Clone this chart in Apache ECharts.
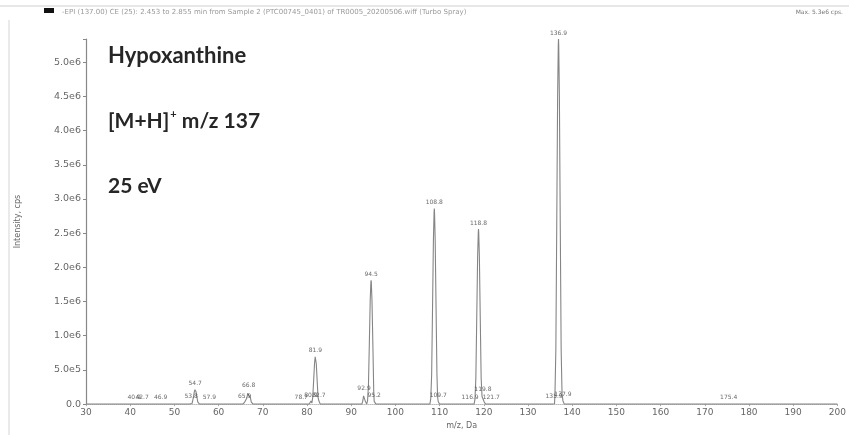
<!DOCTYPE html>
<html>
<head>
<meta charset="utf-8">
<script src="https://cdn.jsdelivr.net/npm/echarts@6/dist/echarts.min.js"></script>
<style>
  html, body { margin: 0; padding: 0; background: #fff; }
  #chart { width: 849px; height: 435px; }
</style>
</head>
<body>
<div id="chart"></div>
<script>
// Product-ion spectrum of hypoxanthine, profile trace (m/z in Da, intensity in cps)
const profileMz = [
  30.0, 38.5,
  40.5, 40.9, 41.3,
  42.3, 42.7, 43.1,
  46.5, 46.9, 47.3,
  53.4, 53.8, 54.0, 54.1, 54.3, 54.5, 54.65, 54.7, 54.75, 54.9, 55.1, 55.3, 55.5, 55.7,
  57.5, 57.9, 58.3,
  65.5, 65.9, 66.1, 66.2, 66.4, 66.6, 66.75, 66.8, 66.85, 67.0, 67.2, 67.4, 67.6, 67.8,
  78.3, 78.7, 79.1,
  80.5, 80.9, 81.1, 81.3, 81.5, 81.7, 81.85, 81.9, 81.95, 82.1, 82.3, 82.5, 82.7, 83.0,
  92.4, 92.6, 92.8, 92.9, 93.0, 93.2, 93.5, 93.7, 93.9, 94.1, 94.3, 94.45, 94.5, 94.55, 94.7, 94.9, 95.1, 95.2, 95.35, 95.6,
  107.8, 108.0, 108.2, 108.4, 108.6, 108.75, 108.8, 108.85, 109.0, 109.2, 109.4, 109.55, 109.7, 110.0,
  116.5, 116.9, 117.3,
  117.8, 118.0, 118.2, 118.4, 118.6, 118.75, 118.8, 118.85, 119.0, 119.2, 119.4, 119.6, 119.8, 120.1, 120.4,
  121.3, 121.7, 122.1,
  135.5, 135.9, 136.0, 136.1, 136.3, 136.5, 136.7, 136.85, 136.9, 136.95, 137.1, 137.3, 137.5, 137.7, 137.9, 138.2,
  175.0, 175.4, 175.8,
  200.0
];
const profileIntensity = [
  0, 0,
  0, 8000, 0,
  0, 15000, 0,
  0, 8000, 0,
  0, 20000, 10000, 15000, 100000, 180000, 211000, 215000, 211000, 180000, 100000, 30000, 5000, 0,
  0, 8000, 0,
  0, 30000, 10000, 15000, 90000, 160000, 187000, 190000, 187000, 160000, 90000, 30000, 5000, 0,
  0, 10000, 0,
  0, 45000, 15000, 100000, 340000, 590000, 690000, 700000, 690000, 590000, 340000, 100000, 45000, 0,
  0, 40000, 120000, 140000, 120000, 40000, 0, 50000, 270000, 880000, 1520000, 1780000, 1810000, 1780000, 1520000, 880000, 180000, 40000, 20000, 0,
  0, 80000, 430000, 1400000, 2400000, 2810000, 2860000, 2810000, 2400000, 1400000, 430000, 100000, 35000, 0,
  0, 8000, 0,
  0, 70000, 380000, 1250000, 2150000, 2510000, 2560000, 2510000, 2150000, 1250000, 380000, 110000, 120000, 30000, 0,
  0, 15000, 0,
  0, 20000, 5000, 150000, 800000, 2600000, 4500000, 5250000, 5340000, 5250000, 4500000, 2600000, 800000, 150000, 50000, 0,
  0, 8000, 0,
  0
];

// Peak annotations: labelled m/z and the apex intensity they sit on
const labelMz = [40.9, 42.7, 46.9, 53.8, 54.7, 57.9, 65.9, 66.8, 78.7, 80.9, 81.9, 82.7,
                 92.9, 94.5, 95.2, 108.8, 109.7, 116.9, 118.8, 119.8, 121.7, 135.9, 136.9, 137.9, 175.4];
const labelIntensity = [8000, 15000, 8000, 20000, 215000, 8000, 30000, 190000, 10000, 45000, 700000, 45000,
                        140000, 1810000, 40000, 2860000, 35000, 8000, 2560000, 120000, 15000, 20000, 5340000, 50000, 8000];

const xTicks = { min: 30, max: 200, interval: 10 };
const yTicks = { min: 0, max: 5340000, interval: 500000 };

const chart = echarts.init(document.getElementById('chart'), null, { renderer: 'canvas' });

function yLabel(v) {
  if (Math.abs(v / 500000 - Math.round(v / 500000)) > 1e-6) return '';
  if (v === 0) return '0.0';
  if (v >= 1000000) return (v / 1000000).toFixed(1) + 'e6';
  return (v / 100000).toFixed(1) + 'e5';
}

const annoFont = 'Lato, "Open Sans", sans-serif';

chart.setOption({
  animation: false,
  backgroundColor: '#fff',
  grid: { left: 86, right: 6, top: 39, bottom: 24, containLabel: false },
  xAxis: {
    type: 'value',
    min: xTicks.min, max: xTicks.max, interval: xTicks.interval,
    name: 'm/z, Da',
    nameLocation: 'middle',
    nameGap: 14,
    nameTextStyle: { fontSize: 8, color: '#666', fontFamily: 'DejaVu Sans' },
    axisLine: { show: true, lineStyle: { color: '#bbb', type: 'dotted', width: 1 } },
    axisTick: { show: true, length: 2, lineStyle: { color: '#aaa' } },
    axisLabel: { fontSize: 9, color: '#666', margin: 4, fontFamily: 'DejaVu Sans' },
    splitLine: { show: false }
  },
  yAxis: {
    type: 'value',
    min: yTicks.min, max: yTicks.max, interval: yTicks.interval,
    name: 'Intensity, cps',
    nameLocation: 'middle',
    nameGap: 64,
    nameRotate: 90,
    nameTextStyle: { fontSize: 8, color: '#666', fontFamily: 'DejaVu Sans' },
    axisLine: { show: true, lineStyle: { color: '#888', width: 1.2 } },
    axisTick: { show: true, length: 3, lineStyle: { color: '#888' } },
    axisLabel: { fontSize: 9.5, color: '#666', margin: 5, formatter: yLabel, fontFamily: 'DejaVu Sans' },
    splitLine: { show: false }
  },
  series: [
    {
      name: 'profile',
      type: 'line',
      data: profileMz.map((m, i) => [m, profileIntensity[i]]),
      showSymbol: false,
      smooth: false,
      lineStyle: { color: '#858585', width: 1.1 },
      z: 2
    },
    {
      name: 'peak labels',
      type: 'scatter',
      data: labelMz.map((m, i) => [m, labelIntensity[i]]),
      symbolSize: 0,
      label: {
        show: true,
        position: 'top',
        distance: 3,
        formatter: p => p.value[0].toFixed(1),
        fontSize: 6,
        color: '#444',
        fontFamily: 'DejaVu Sans'
      },
      z: 3
    }
  ],
  graphic: [
    { type: 'line', shape: { x1: 0, y1: 6, x2: 849, y2: 6 }, style: { stroke: '#cfcfcf', lineWidth: 1 } },
    { type: 'line', shape: { x1: 9, y1: 20, x2: 9, y2: 435 }, style: { stroke: '#d5d5d5', lineWidth: 1 } },
    { type: 'rect', shape: { x: 44, y: 8, width: 10, height: 5 }, style: { fill: '#111' } },
    { type: 'text', left: 62, top: 9,
      style: { text: '-EPI (137.00) CE (25): 2.453 to 2.855 min from Sample 2 (PTC00745_0401) of TR0005_20200506.wiff (Turbo Spray)',
               fontSize: 7, fill: '#999', fontFamily: 'DejaVu Sans' } },
    { type: 'text', right: 6, top: 9,
      style: { text: 'Max. 5.3e6 cps.', fontSize: 6, fill: '#777', fontFamily: 'DejaVu Sans' } },
    { type: 'text', left: 108, top: 45,
      style: { text: 'Hypoxanthine', fontSize: 22, fontWeight: 'bold', fill: '#262626', fontFamily: annoFont } },
    { type: 'text', left: 108, top: 109,
      style: {
        text: '{b|[M+H]}{s|+}{b| m/z 137}',
        rich: {
          b: { fontSize: 21, fontWeight: 'bold', fill: '#262626', fontFamily: annoFont, verticalAlign: 'bottom' },
          s: { fontSize: 11, fontWeight: 'bold', fill: '#262626', fontFamily: annoFont, verticalAlign: 'top', padding: [0, 0, 12, 1] }
        }
      } },
    { type: 'text', left: 108, top: 176,
      style: { text: '25 eV', fontSize: 21, fontWeight: 'bold', fill: '#262626', fontFamily: annoFont } }
  ]
});
</script>
</body>
</html>
